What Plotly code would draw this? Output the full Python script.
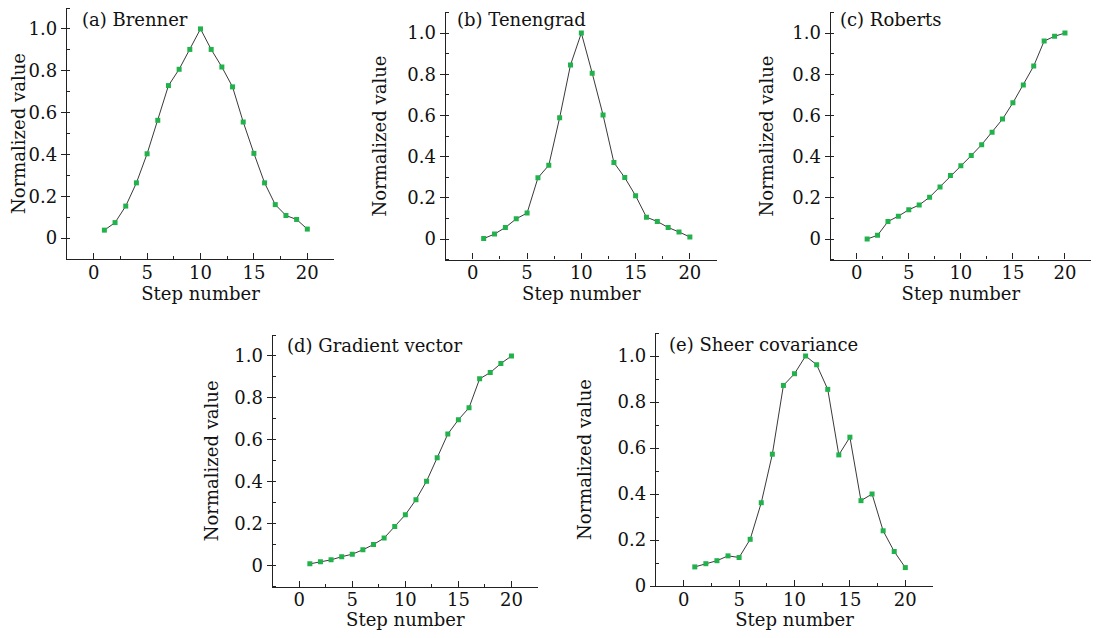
import plotly.graph_objects as go

# step numbers shared by every panel
steps = [1, 2, 3, 4, 5, 6, 7, 8, 9, 10, 11, 12, 13, 14, 15, 16, 17, 18, 19, 20]

brenner = [0.038, 0.074, 0.153, 0.264, 0.403, 0.563, 0.729, 0.807, 0.902, 1.0,
           0.902, 0.818, 0.723, 0.555, 0.405, 0.264, 0.160, 0.108, 0.089, 0.043]
tenengrad = [0.002, 0.024, 0.056, 0.098, 0.126, 0.297, 0.358, 0.589, 0.845, 1.0,
             0.805, 0.602, 0.371, 0.298, 0.210, 0.106, 0.085, 0.056, 0.034, 0.010]
roberts = [0.0, 0.018, 0.085, 0.111, 0.142, 0.165, 0.203, 0.253, 0.308, 0.356,
           0.405, 0.458, 0.518, 0.582, 0.661, 0.748, 0.840, 0.961, 0.984, 1.0]
gradient_vector = [0.009, 0.019, 0.028, 0.043, 0.055, 0.076, 0.101, 0.132, 0.187, 0.243,
                   0.315, 0.403, 0.515, 0.628, 0.696, 0.753, 0.891, 0.921, 0.964, 1.0]
sheer_covariance = [0.083, 0.097, 0.110, 0.131, 0.124, 0.203, 0.362, 0.573, 0.872, 0.923,
                    1.0, 0.962, 0.855, 0.570, 0.647, 0.371, 0.400, 0.240, 0.150, 0.080]

titles = ["(a) Brenner", "(b) Tenengrad", "(c) Roberts",
          "(d) Gradient vector", "(e) Sheer covariance"]
series = [brenner, tenengrad, roberts, gradient_vector, sheer_covariance]

x_ticks = [0, 5, 10, 15, 20]
y_ticks = [0, 0.2, 0.4, 0.6, 0.8, 1.0]
y_ticktext = ["0", "0.2", "0.4", "0.6", "0.8", "1.0"]

# the page body has an 8px margin, so the figure is a bit smaller than the window
OFF = 8
W, H = 1099 - 2 * OFF, 638 - 2 * OFF
FONT = "DejaVu Serif"

# panel boxes in window pixels: left, right, top, bottom
boxes = [
    (67, 334, 8, 259),
    (445.7, 717, 12.4, 259.6),
    (830.7, 1091, 12.4, 259.6),
    (272.7, 538, 335, 586.7),
    (656, 933, 333, 586),
]
y_ranges = [[-0.1, 1.1]] * 4 + [[0, 1.1]]
y_standoff = [3, 16, 14, 11, 21]
# panel labels; the top row sits a little lower so it is not cut by the page edge
title_pos = [(80, 19), (455, 19), (838, 19), (285, 345), (667, 344)]


def fx(px):
    return min(max((px - OFF) / W, 0), 1)


def fy(py):
    return min(max(1 - (py - OFF) / H, 0), 1)


fig = go.Figure()
layout = {}
annotations = []
for i, (name, vals) in enumerate(zip(titles, series)):
    n = "" if i == 0 else str(i + 1)
    fig.add_trace(
        go.Scatter(
            x=steps,
            y=vals,
            mode="lines+markers",
            line=dict(color="#3a3a3a", width=1),
            marker=dict(symbol="square", size=5, color="#22b24c"),
            xaxis="x" + n,
            yaxis="y" + n,
            showlegend=False,
        )
    )
    l, r, t, b = boxes[i]
    layout["xaxis" + n] = dict(
        domain=[fx(l), fx(r)],
        anchor="y" + n,
        range=[-2.5, 22.5],
        tickvals=x_ticks,
        ticks="inside",
        ticklen=6,
        tickcolor="#222",
        ticklabelstandoff=-3,
        minor=dict(dtick=2.5, tick0=0, ticks="inside", ticklen=3, tickcolor="#222"),
        showline=True,
        linecolor="#222",
        linewidth=1.3,
        showgrid=False,
        zeroline=False,
        automargin=False,
        tickfont=dict(family=FONT, size=18, color="#111"),
        title=dict(text="Step number", font=dict(family=FONT, size=18, color="#111"),
                   standoff=2),
    )
    layout["yaxis" + n] = dict(
        domain=[fy(b), fy(t)],
        anchor="x" + n,
        range=y_ranges[i],
        tickvals=y_ticks,
        ticktext=y_ticktext,
        ticks="outside",
        ticklen=5,
        tickcolor="#222",
        minor=dict(dtick=0.1, tick0=0, ticks="inside", ticklen=3, tickcolor="#222"),
        showline=True,
        linecolor="#222",
        linewidth=1.3,
        showgrid=False,
        zeroline=False,
        automargin=False,
        tickfont=dict(family=FONT, size=18, color="#111"),
        title=dict(text="Normalized value", font=dict(family=FONT, size=18, color="#111"),
                   standoff=y_standoff[i]),
    )
    px_, py_ = title_pos[i]
    annotations.append(
        dict(
            text=name,
            x=fx(px_),
            y=fy(py_),
            xref="paper",
            yref="paper",
            xanchor="left",
            yanchor="middle",
            showarrow=False,
            font=dict(family=FONT, size=18, color="#111"),
        )
    )

fig.update_layout(
    **layout,
    annotations=annotations,
    width=W,
    height=H,
    margin=dict(l=0, r=0, t=0, b=0),
    paper_bgcolor="white",
    plot_bgcolor="white",
)

fig.write_html("out.html")
